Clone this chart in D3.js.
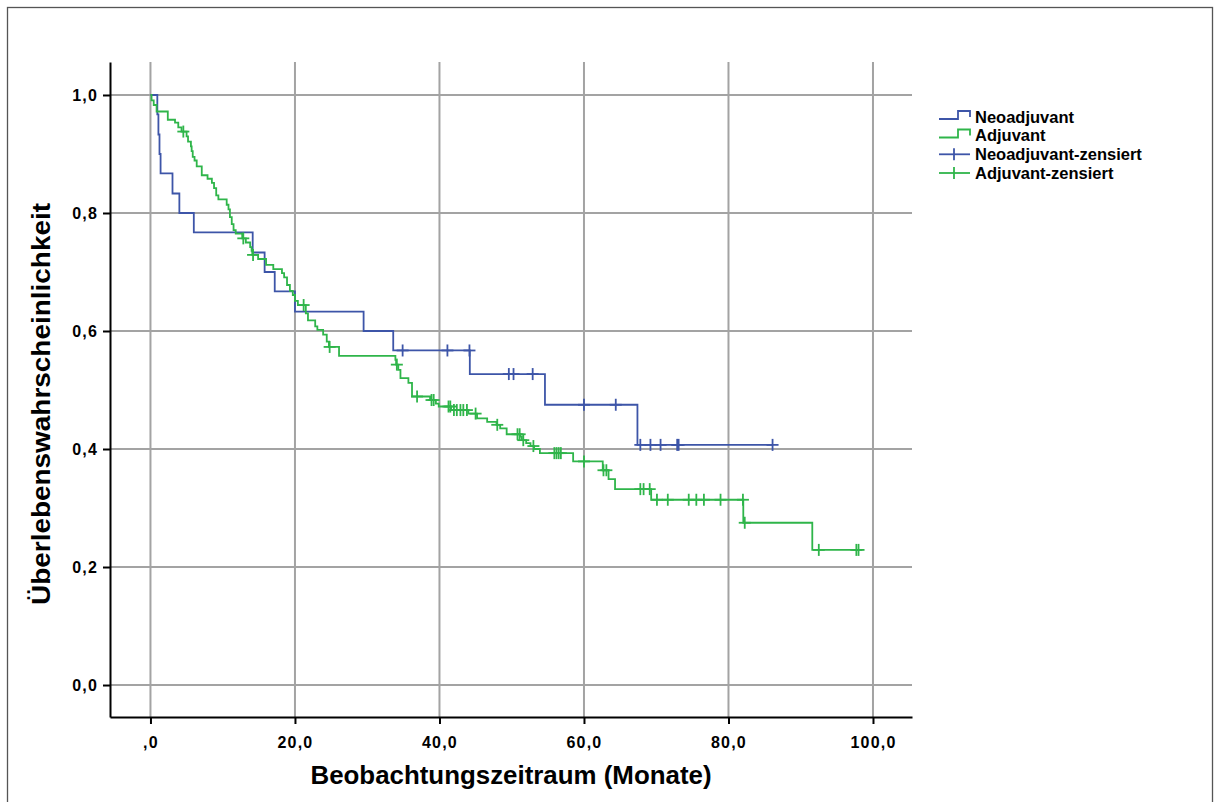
<!DOCTYPE html>
<html>
<head>
<meta charset="utf-8">
<script src="https://cdn.jsdelivr.net/npm/d3@7"></script>
<style>
  html, body { margin: 0; padding: 0; background: #fff; }
  svg { display: block; }
  text { font-family: "Liberation Sans", Arial, Helvetica, sans-serif; font-weight: bold; fill: #000; }
</style>
</head>
<body>
<svg id="chart" width="1215" height="802"></svg>
<script>
// ---------------- data ----------------
const seriesNames = ["Neoadjuvant", "Adjuvant"];
const legendLabels = ["Neoadjuvant", "Adjuvant", "Neoadjuvant-zensiert", "Adjuvant-zensiert"];

// Neoadjuvant: event times (months) and survival after each event
const neoTimes = [0.95, 1.1, 1.25, 1.4, 3.05, 4.0, 6.0, 14.15, 15.8, 17.2, 20.0, 29.5, 33.6, 44.2, 54.6, 67.4];
const neoSurv  = [0.967, 0.933, 0.900, 0.867, 0.833, 0.800, 0.767, 0.733, 0.700, 0.667, 0.633, 0.600, 0.567, 0.527, 0.475, 0.407];
const neoCensored = [34.9, 41.1, 44.15, 49.6, 50.25, 52.9, 60.0, 64.4, 67.8, 69.2, 70.6, 72.9, 73.1, 86.1];
const neoEnd = 86.1;

// Adjuvant
const adjTimes = [0.15, 0.45, 0.85, 2.4, 3.4, 3.85, 4.3, 5.0, 5.2, 5.6, 5.7, 5.85, 6.1, 6.4, 7.1, 7.9, 8.5, 8.8, 9.1, 9.4,
  10.55, 10.8, 11.0, 11.25, 11.5, 11.8, 12.7, 13.2, 13.8, 14.0, 14.1, 14.9, 16.0, 17.0, 18.2, 18.5, 18.9, 19.3, 19.7, 20.0,
  20.4, 21.5, 21.8, 22.8, 23.1, 23.9, 24.4, 24.7, 26.1, 33.9, 34.0, 34.3, 34.6, 35.7, 36.2, 38.7, 39.5, 39.9, 41.6, 44.0,
  45.2, 46.6, 47.9, 48.4, 49.3, 51.2, 51.4, 52.0, 52.6, 53.1, 53.9, 58.5, 62.6, 63.4, 64.3, 69.3, 82.05, 91.6];
const adjSurv = [0.991, 0.983, 0.972, 0.958, 0.953, 0.945, 0.938, 0.930, 0.921, 0.913, 0.905, 0.895, 0.889, 0.879, 0.864, 0.858, 0.851, 0.842, 0.830, 0.823,
  0.814, 0.806, 0.793, 0.781, 0.771, 0.765, 0.757, 0.750, 0.742, 0.736, 0.729, 0.722, 0.712, 0.705, 0.698, 0.691, 0.678, 0.668, 0.661, 0.651,
  0.644, 0.630, 0.618, 0.608, 0.602, 0.594, 0.582, 0.573, 0.558, 0.551, 0.543, 0.534, 0.520, 0.512, 0.489, 0.483, 0.477, 0.472, 0.466, 0.460,
  0.452, 0.446, 0.441, 0.435, 0.425, 0.421, 0.415, 0.410, 0.405, 0.400, 0.393, 0.379, 0.364, 0.349, 0.332, 0.314, 0.275, 0.229];
const adjCensored = [4.55, 12.85, 14.2, 21.2, 24.8, 34.1, 36.9, 38.9, 39.2, 41.25, 41.5, 42.0, 42.4, 42.9, 43.3, 43.8, 45.0, 48.0,
  50.8, 51.1, 51.6, 53.0, 55.9, 56.2, 56.5, 56.8, 60.0, 62.7, 63.1, 67.8, 68.25, 69.1, 70.1, 71.6, 74.5, 75.55, 76.6, 78.9,
  82.0, 82.25, 92.5, 97.7, 98.0];
const adjEnd = 98.0;

const xTicks = [0, 20, 40, 60, 80, 100];
const xTickLabels = [",0", "20,0", "40,0", "60,0", "80,0", "100,0"];
const yTicks = [0, 0.2, 0.4, 0.6, 0.8, 1.0];
const yTickLabels = ["0,0", "0,2", "0,4", "0,6", "0,8", "1,0"];
const xTitle = "Beobachtungszeitraum (Monate)";
const yTitle = "Überlebenswahrscheinlichkeit";

// ---------------- drawing ----------------
const colors = { Neoadjuvant: "#3d55a8", Adjuvant: "#2fb54a" };
const gridColor = "#a3a3a3";

const svg = d3.select("#chart");
svg.append("rect").attr("width", 1215).attr("height", 802).attr("fill", "#fff");
// outer frame
svg.append("rect").attr("x", 7.5).attr("y", 7.5).attr("width", 1205).attr("height", 805)
  .attr("fill", "none").attr("stroke", "#555").attr("stroke-width", 1.3);

const x = d3.scaleLinear().domain([-5.6, 105.4]).range([110, 912]);
const y = d3.scaleLinear().domain([-0.0542, 1.0559]).range([717, 62]);

// grid
const grid = svg.append("g");
grid.selectAll("line.vx").data(xTicks).join("line")
  .attr("x1", d => x(d)).attr("x2", d => x(d)).attr("y1", y.range()[1]).attr("y2", y.range()[0])
  .attr("stroke", gridColor).attr("stroke-width", 2);
grid.selectAll("line.hy").data(yTicks).join("line")
  .attr("y1", d => y(d)).attr("y2", d => y(d)).attr("x1", x.range()[0]).attr("x2", x.range()[1])
  .attr("stroke", gridColor).attr("stroke-width", 2);

// axes
const xAxis = d3.axisBottom(x).tickValues(xTicks).tickFormat((d, i) => xTickLabels[i]).tickSizeInner(7).tickSizeOuter(0).tickPadding(10);
const yAxis = d3.axisLeft(y).tickValues(yTicks).tickFormat((d, i) => yTickLabels[i]).tickSizeInner(7).tickSizeOuter(0).tickPadding(5);

const gx = svg.append("g").attr("transform", "translate(0,717)").call(xAxis);
const gy = svg.append("g").attr("transform", "translate(110,0)").call(yAxis);
[gx, gy].forEach(g => {
  g.select(".domain").attr("stroke", "#000").attr("stroke-width", 2);
  g.selectAll(".tick line").attr("stroke", "#000").attr("stroke-width", 2);
  g.selectAll(".tick text").attr("font-family", "Liberation Sans, Arial, sans-serif")
    .attr("font-weight", "bold").attr("font-size", 16).attr("letter-spacing", 1.2).attr("fill", "#000");
});
gx.selectAll(".tick text").attr("dy", "0.9em");

// titles
svg.append("text").attr("x", 511).attr("y", 784).attr("text-anchor", "middle")
  .attr("font-size", 25).attr("textLength", 401).attr("lengthAdjust", "spacingAndGlyphs").text(xTitle);
svg.append("text").attr("transform", "translate(50,404) rotate(-90)").attr("text-anchor", "middle")
  .attr("font-size", 25).attr("textLength", 402).attr("lengthAdjust", "spacingAndGlyphs").text(yTitle);

// survival step curves
function buildPoints(times, surv, end) {
  const pts = [[0, 1]];
  times.forEach((t, i) => pts.push([t, surv[i]]));
  pts.push([end, surv[surv.length - 1]]);
  return pts;
}
function survAt(times, surv, t) {
  let s = 1;
  for (let i = 0; i < times.length; i++) { if (times[i] <= t) s = surv[i]; }
  return s;
}
const line = d3.line().x(d => x(d[0])).y(d => y(d[1])).curve(d3.curveStepAfter);

const series = [
  { name: "Neoadjuvant", times: neoTimes, surv: neoSurv, cens: neoCensored, end: neoEnd },
  { name: "Adjuvant", times: adjTimes, surv: adjSurv, cens: adjCensored, end: adjEnd }
];

series.forEach(s => {
  svg.append("path").datum(buildPoints(s.times, s.surv, s.end))
    .attr("d", line).attr("fill", "none").attr("stroke", colors[s.name]).attr("stroke-width", 1.8);
});
series.forEach(s => {
  const g = svg.append("g").attr("stroke", colors[s.name]).attr("stroke-width", 1.8);
  s.cens.forEach(t => {
    const cx = x(t), cy = y(survAt(s.times, s.surv, t));
    g.append("line").attr("x1", cx - 6).attr("x2", cx + 6).attr("y1", cy).attr("y2", cy);
    g.append("line").attr("x1", cx).attr("x2", cx).attr("y1", cy - 6).attr("y2", cy + 6);
  });
});

// legend
const leg = svg.append("g");
const rowY = [117, 135.5, 154.3, 173];
legendLabels.forEach((lab, i) => {
  const cy = rowY[i];
  const col = i % 2 === 0 ? colors.Neoadjuvant : colors.Adjuvant;
  if (i < 2) {
    leg.append("path").attr("d", `M939,${cy + 2}H958V${cy - 6}H970V${cy}`)
      .attr("fill", "none").attr("stroke", col).attr("stroke-width", 1.8);
  } else {
    leg.append("line").attr("x1", 939).attr("x2", 970).attr("y1", cy).attr("y2", cy).attr("stroke", col).attr("stroke-width", 1.8);
    leg.append("line").attr("x1", 954).attr("x2", 954).attr("y1", cy - 6).attr("y2", cy + 6).attr("stroke", col).attr("stroke-width", 1.8);
  }
  leg.append("text").attr("x", 975).attr("y", cy + 5.5).attr("font-size", 16.5).text(lab);
});
</script>
</body>
</html>
